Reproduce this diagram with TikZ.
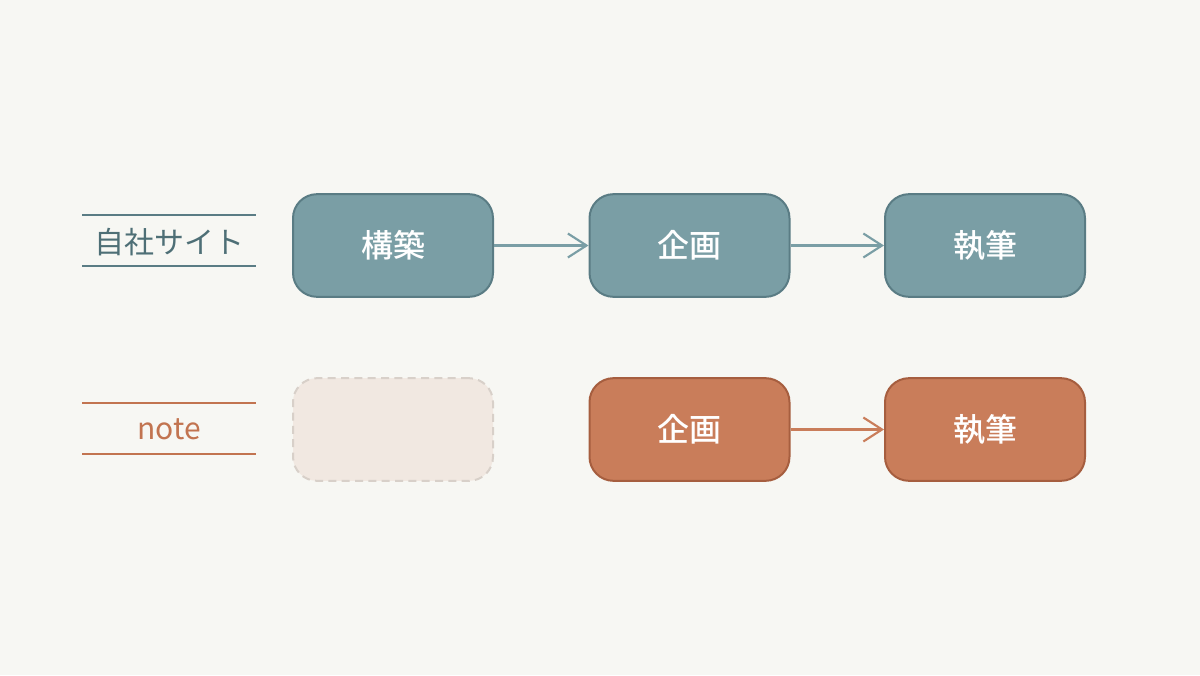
\documentclass[tikz,border=0pt]{standalone}
\usepackage{fontspec}
\setmainfont{Noto Sans CJK JP}
\newfontfamily\medfont{Noto Sans CJK JP Medium}
\usetikzlibrary{arrows.meta}
\definecolor{bg}{HTML}{F7F7F3}
\definecolor{tealfill}{HTML}{7A9EA5}
\definecolor{tealdraw}{HTML}{5A7C84}
\definecolor{tealtext}{HTML}{4E6F76}
\definecolor{orfill}{HTML}{C97D5A}
\definecolor{ordraw}{HTML}{A65E3F}
\definecolor{ortext}{HTML}{C27450}
\definecolor{ghostfill}{HTML}{F1E8E1}
\definecolor{ghostdraw}{HTML}{D8D0C9}
\tikzset{
  x=0.75pt, y=-0.75pt,
  stepbox/.style={rounded corners=18pt, line width=1.5pt, minimum width=150pt, minimum height=77pt, text=white, font=\medfont\fontsize{24}{27}\selectfont, inner sep=0pt},
  tealbox/.style={stepbox, fill=tealfill, draw=tealdraw},
  orbox/.style={stepbox, fill=orfill, draw=ordraw},
  ghostbox/.style={stepbox, fill=ghostfill, draw=ghostdraw, dashed, dash pattern=on 6pt off 4pt},
  tealarrow/.style={draw=tealfill, line width=1.6pt, -{Straight Barb[length=14pt,width=18pt,line width=1.6pt]}},
  orarrow/.style={draw=orfill, line width=1.6pt, -{Straight Barb[length=14pt,width=18pt,line width=1.6pt]}},
  rowlabel/.style={font=\fontsize{22.5}{26}\selectfont, inner sep=0pt},
}
\begin{document}
\begin{tikzpicture}
\fill[bg] (0,0) rectangle (1200,675);
\useasboundingbox (0,0) rectangle (1200,675);
% row 1
\draw[tealdraw, line width=1.5pt] (82,215) coordinate (l1a) -- (256,215) coordinate (l1b);
\draw[tealdraw, line width=1.5pt] (82,266) coordinate (l2a) -- (256,266) coordinate (l2b);
\node[rowlabel, text=tealtext] (lab1) at (169,242) {自社サイト};
\node[tealbox] (a1) at (393,245.5) {構築};
\node[tealbox] (a2) at (689.5,245.5) {企画};
\node[tealbox] (a3) at (985,245.5) {執筆};
\draw[tealarrow] (a1.east) -- (a2.west);
\draw[tealarrow] (a2.east) -- (a3.west);
% row 2
\draw[ortext, line width=1.5pt] (82,403) coordinate (l3a) -- (256,403) coordinate (l3b);
\draw[ortext, line width=1.5pt] (82,454) coordinate (l4a) -- (256,454) coordinate (l4b);
\node[rowlabel, text=ortext] (lab2) at (169,429) {note};
\node[ghostbox] (b1) at (393,429.5) {};
\node[orbox] (b2) at (689.5,429.5) {企画};
\node[orbox] (b3) at (985,429.5) {執筆};
\draw[orarrow] (b2.east) -- (b3.west);
\end{tikzpicture}
\end{document}
